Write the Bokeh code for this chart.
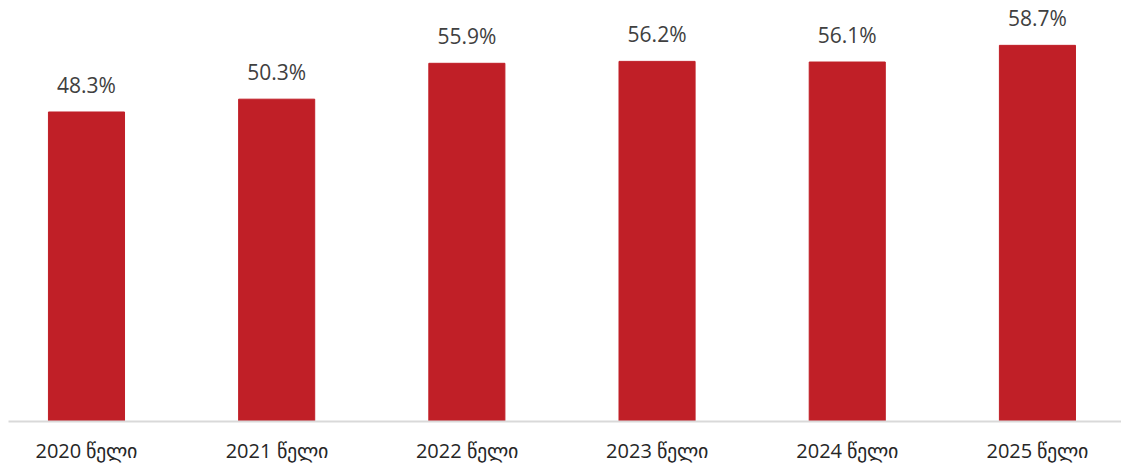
from bokeh.plotting import figure
from bokeh.models import ColumnDataSource, Range1d, FixedTicker, LabelSet
from bokeh.core.properties import value
from bokeh.embed import file_html
from bokeh.resources import INLINE

years = ["2020 წელი", "2021 წელი", "2022 წელი", "2023 წელი", "2024 წელი", "2025 წელი"]
values = [48.3, 50.3, 55.9, 56.2, 56.1, 58.7]
labels = [f"{v:.1f}%" for v in values]

xs = list(range(len(years)))
src = ColumnDataSource(dict(x=xs, top=values, label=labels))

p = figure(width=1121, height=466, output_backend="svg", toolbar_location=None,
           x_range=Range1d(-0.41, 5.442), y_range=Range1d(0, 65.7),
           min_border_left=8, min_border_right=0, min_border_top=0, min_border_bottom=44)
p.vbar(x="x", top="top", width=0.4, bottom=0, source=src, color="#C01F27")

lab = LabelSet(x="x", y="top", text="label", source=src, text_align="center",
               text_baseline="alphabetic", y_offset=19, text_font_size="21px",
               text_color="#404040", text_font=value("Open Sans"))
p.add_layout(lab)

p.yaxis.visible = False
p.xaxis.ticker = FixedTicker(ticks=xs)
p.xaxis.major_label_overrides = {i: y for i, y in enumerate(years)}
p.xaxis.major_tick_line_color = None
p.xaxis.minor_tick_line_color = None
p.xaxis.major_tick_out = 0
p.xaxis.major_tick_in = 0
p.xaxis.major_label_standoff = 15
p.xaxis.major_label_text_font_size = "20px"
p.xaxis.major_label_text_font = "Open Sans"
p.xaxis.major_label_text_color = "#262626"
p.xaxis.axis_line_color = "#D9D9D9"
p.xaxis.axis_line_width = 2
p.xgrid.visible = False
p.ygrid.visible = False
p.outline_line_color = None

open("out.html", "w").write(file_html(p, INLINE))
